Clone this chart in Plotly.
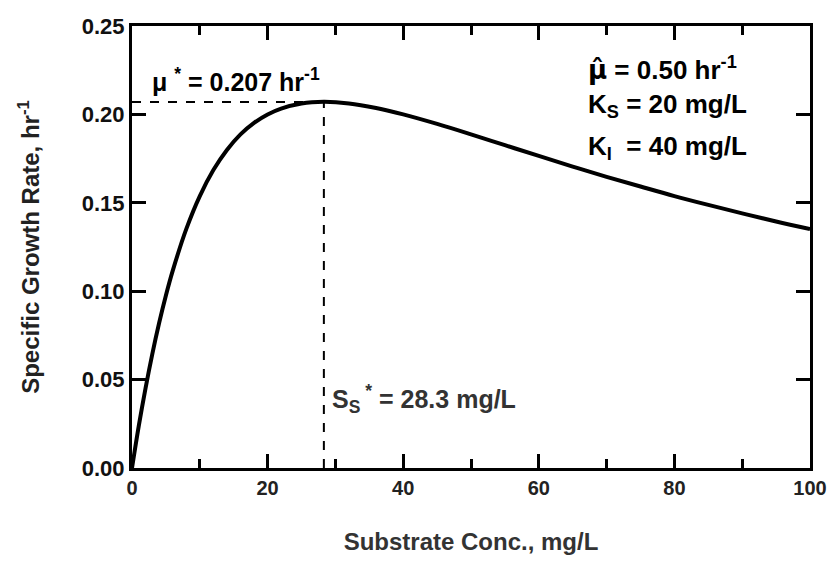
import plotly.graph_objects as go

# Substrate concentration (mg/L) and specific growth rate (1/hr)
substrate = [0, 1, 2, 3, 4, 5, 6, 8, 10, 12, 14, 16, 18, 20, 22, 25, 28.3, 32, 36, 40,
             45, 50, 55, 60, 65, 70, 75, 80, 85, 90, 95, 100]
growth = [0.0, 0.0238, 0.0452, 0.0646, 0.0820, 0.0976, 0.1115, 0.1351, 0.1538, 0.1685,
          0.1799, 0.1887, 0.1952, 0.2000, 0.2033, 0.2062, 0.2071, 0.2062, 0.2036, 0.2000,
          0.1946, 0.1887, 0.1826, 0.1765, 0.1705, 0.1647, 0.1592, 0.1538, 0.1488, 0.1440,
          0.1394, 0.1351]
s_star = 28.3
mu_star = 0.207

x_ticks = [0, 20, 40, 60, 80, 100]
y_ticks = [0.00, 0.05, 0.10, 0.15, 0.20, 0.25]

FONT = "Liberation Sans, Arial, sans-serif"

fig = go.Figure()
fig.add_trace(go.Scatter(x=[0, s_star], y=[mu_star, mu_star], mode="lines",
                         line=dict(color="black", width=2, dash="dash"), hoverinfo="skip"))
fig.add_trace(go.Scatter(x=[s_star, s_star], y=[0, mu_star], mode="lines",
                         line=dict(color="black", width=2, dash="dash"), hoverinfo="skip"))
fig.add_trace(go.Scatter(x=substrate, y=growth, mode="lines", line_shape="spline",
                         line=dict(color="black", width=4)))

fig.update_layout(
    width=829, height=561, showlegend=False,
    margin=dict(l=132, r=19, t=26, b=93),
    paper_bgcolor="white", plot_bgcolor="white",
    font=dict(family=FONT, color="black"),
)
fig.update_xaxes(range=[0, 100], tickvals=x_ticks, ticktext=[str(v) for v in x_ticks],
                 automargin=False,
                 showgrid=False, zeroline=False, showline=True, linecolor="black", linewidth=3,
                 mirror="ticks", ticks="inside", ticklen=14, tickwidth=2.5, tickcolor="black",
                 minor=dict(dtick=10, ticks="inside", ticklen=9, tickwidth=2.5, tickcolor="black"),
                 tickfont=dict(size=20, weight="bold", color="#222"),
                 title=dict(text="Substrate Conc., mg/L", font=dict(size=24, weight="bold", color="#333"),
                            standoff=36))
fig.update_yaxes(range=[0, 0.25], tickvals=y_ticks, ticktext=[f"{v:.2f}" for v in y_ticks],
                 automargin=False,
                 showgrid=False, zeroline=False, showline=True, linecolor="black", linewidth=3,
                 mirror="ticks", ticks="inside", ticklen=14, tickwidth=2.5, tickcolor="black",
                 tickfont=dict(size=22, weight="bold", color="#111"),
                 title=dict(text="Specific Growth Rate, hr<sup>-1</sup>",
                            font=dict(size=24, weight="bold", color="#222"), standoff=36))

fig.add_annotation(x=2.6, y=0.2095, xref="x", yref="y", xanchor="left", yanchor="bottom",
                   text="μ <sup>*</sup> = 0.207 hr<sup>-1</sup>", showarrow=False,
                   font=dict(size=25, weight="bold", color="black"))
fig.add_annotation(x=67.0, y=0.226, xref="x", yref="y", xanchor="left", yanchor="middle", align="left",
                   text="<span style='font-family:DejaVu Sans'>μ̂</span> = 0.50 hr<sup>-1</sup>",
                   showarrow=False, font=dict(size=26, weight="bold", color="black"))
fig.add_annotation(x=67.0, y=0.205, xref="x", yref="y", xanchor="left", yanchor="middle", align="left",
                   text="K<sub>S</sub> = 20 mg/L", showarrow=False,
                   font=dict(size=26, weight="bold", color="black"))
fig.add_annotation(x=67.0, y=0.181, xref="x", yref="y", xanchor="left", yanchor="middle", align="left",
                   text="K<sub>I</sub>  = 40 mg/L", showarrow=False,
                   font=dict(size=26, weight="bold", color="black"))
fig.add_annotation(x=29.2, y=0.039, xref="x", yref="y", xanchor="left", yanchor="middle", align="left",
                   text="S<sub>S</sub><sup> *</sup> = 28.3 mg/L", showarrow=False,
                   font=dict(size=25, weight="bold", color="#333"))

fig.write_html("out.html")
